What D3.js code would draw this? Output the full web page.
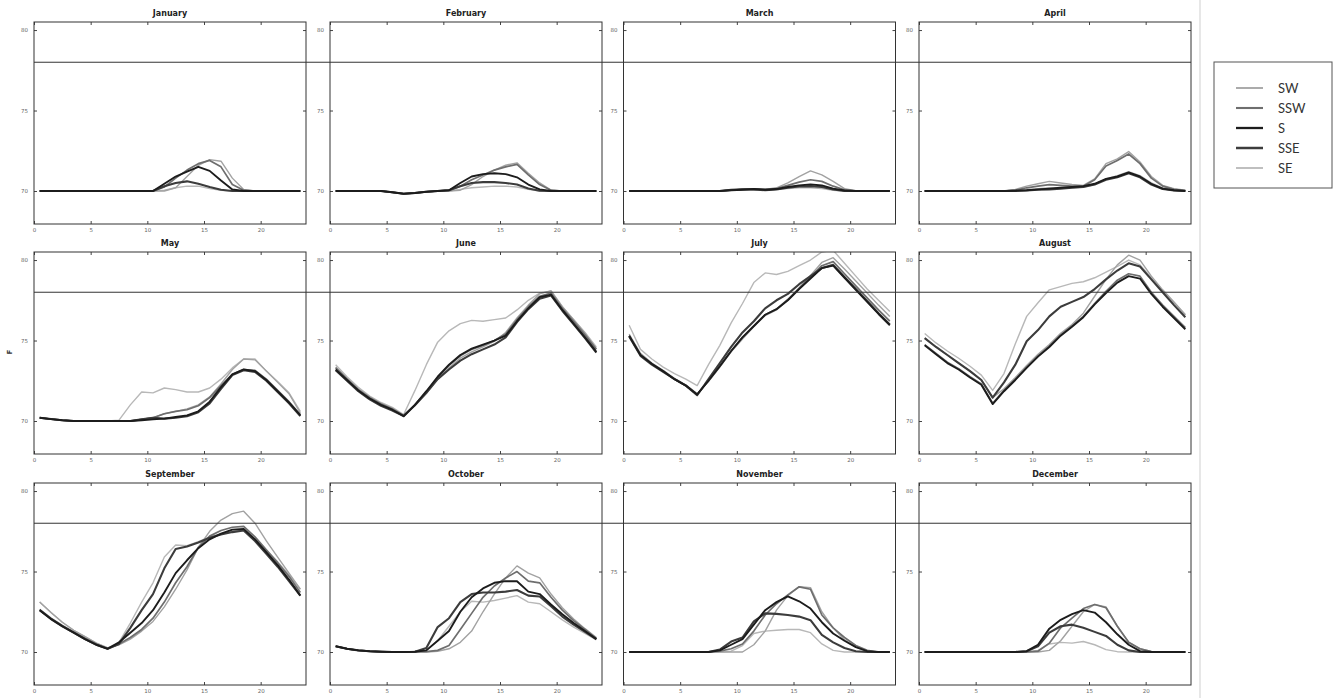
<!DOCTYPE html>
<html>
<head>
<meta charset="utf-8">
<script src="https://cdn.jsdelivr.net/npm/d3@7"></script>
<style>
  body { margin: 0; background: #fff; }
  svg { display: block; }
</style>
</head>
<body>
<svg id="chart" width="1335" height="698"></svg>
<script>
// Hourly indoor temperature (°F) by facade orientation, one panel per month.
const hours = [0.5, 1.5, 2.5, 3.5, 4.5, 5.5, 6.5, 7.5, 8.5, 9.5, 10.5, 11.5,
               12.5, 13.5, 14.5, 15.5, 16.5, 17.5, 18.5, 19.5, 20.5, 21.5, 22.5, 23.5];
const seriesNames = ["SW", "SSW", "S", "SSE", "SE"];
const monthNames = ["January", "February", "March", "April", "May", "June",
                    "July", "August", "September", "October", "November", "December"];
const xTicks = [0, 5, 10, 15, 20];
const yTicks = [70, 75, 80];
const comfortLimit = 78;

// Each month: rows in seriesNames order (SW, SSW, S, SSE, SE), 24 hourly values.
const january = [
  [70,70,70,70,70,70,70,70,70,70,70,70,70.2,70.9,71.6,71.95,71.85,70.8,70.1,70,70,70,70,70],
  [70,70,70,70,70,70,70,70,70,70,70,70.25,70.8,71.3,71.7,71.9,71.5,70.4,70.05,70,70,70,70,70],
  [70,70,70,70,70,70,70,70,70,70,70,70.45,70.9,71.2,71.5,71.25,70.65,70.1,70,70,70,70,70,70],
  [70,70,70,70,70,70,70,70,70,70,70,70.3,70.5,70.6,70.45,70.25,70.08,70,70,70,70,70,70,70],
  [70,70,70,70,70,70,70,70,70,70,70,70.05,70.2,70.3,70.3,70.15,70.05,70,70,70,70,70,70,70]
];
const february = [
  [70,70,70,70,70,69.92,69.83,69.88,69.95,70,70,70.05,70.4,70.9,71.3,71.6,71.75,71.1,70.5,70.05,70,70,70,70],
  [70,70,70,70,70,69.92,69.83,69.88,69.95,70,70.05,70.3,70.7,71.0,71.3,71.5,71.65,71.0,70.4,70.05,70,70,70,70],
  [70,70,70,70,70,69.92,69.83,69.88,69.95,70,70.05,70.5,70.9,71.05,71.1,71.05,70.85,70.4,70.1,70,70,70,70,70],
  [70,70,70,70,70,69.92,69.83,69.88,69.95,70,70.05,70.3,70.5,70.55,70.55,70.5,70.4,70.15,70.02,70,70,70,70,70],
  [70,70,70,70,70,69.92,69.83,69.88,69.95,70,70,70.1,70.2,70.25,70.3,70.3,70.25,70.1,70,70,70,70,70,70]
];
const march = [
  [70,70,70,70,70,70,70,70,70,70.05,70.1,70.15,70.1,70.2,70.5,70.9,71.25,71.0,70.6,70.15,70.02,70,70,70],
  [70,70,70,70,70,70,70,70,70,70.05,70.1,70.12,70.1,70.15,70.35,70.55,70.7,70.6,70.3,70.08,70,70,70,70],
  [70,70,70,70,70,70,70,70,70,70.05,70.08,70.12,70.08,70.12,70.25,70.35,70.4,70.35,70.15,70.03,70,70,70,70],
  [70,70,70,70,70,70,70,70,70,70.08,70.1,70.1,70.05,70.1,70.2,70.28,70.3,70.25,70.1,70,70,70,70,70],
  [70,70,70,70,70,70,70,70,70,70.05,70.12,70.15,70.1,70.1,70.15,70.2,70.2,70.15,70.05,70,70,70,70,70]
];
const april = [
  [70,70,70,70,70,70,70,70,70.1,70.3,70.45,70.6,70.5,70.4,70.35,70.75,71.7,72.0,72.45,71.8,70.9,70.35,70.15,70.05],
  [70,70,70,70,70,70,70,70,70.05,70.2,70.3,70.4,70.35,70.3,70.3,70.7,71.55,71.9,72.3,71.7,70.8,70.3,70.1,70.02],
  [70,70,70,70,70,70,70,70,70.02,70.05,70.1,70.15,70.2,70.25,70.3,70.45,70.75,70.9,71.15,70.9,70.45,70.15,70.05,70],
  [70,70,70,70,70,70,70,70,70,70.03,70.08,70.1,70.15,70.2,70.25,70.4,70.7,70.85,71.1,70.85,70.4,70.12,70.03,70],
  [70,70,70,70,70,70,70,70,70.05,70.1,70.15,70.2,70.2,70.2,70.25,70.4,70.75,70.95,71.2,70.95,70.5,70.2,70.05,70]
];
const may = [
  [70.2,70.12,70.05,70,70,70,70,70,70,70.1,70.2,70.45,70.6,70.75,71.0,71.5,72.3,73.2,73.85,73.8,73.1,72.4,71.7,70.5],
  [70.2,70.12,70.05,70,70,70,70,70,70,70.1,70.2,70.45,70.6,70.7,70.95,71.45,72.2,72.9,73.2,73.15,72.6,71.9,71.2,70.4],
  [70.2,70.12,70.05,70,70,70,70,70,70,70.05,70.1,70.15,70.25,70.35,70.6,71.2,72.1,72.9,73.2,73.1,72.55,71.85,71.15,70.35],
  [70.2,70.12,70.05,70,70,70,70,70,70,70.1,70.2,70.15,70.2,70.3,70.55,71.1,72.0,72.85,73.15,73.05,72.5,71.8,71.1,70.3],
  [70.2,70.12,70.05,70,70,70,70,70.05,71.0,71.8,71.75,72.05,71.95,71.8,71.8,72.05,72.6,73.3,73.85,73.85,73.1,72.45,71.75,70.6]
];
const june = [
  [73.35,72.65,72.0,71.5,71.1,70.8,70.35,70.95,71.7,72.6,73.3,73.9,74.3,74.6,74.95,75.5,76.4,77.2,77.9,78.1,77.1,76.3,75.45,74.5],
  [73.3,72.6,71.95,71.45,71.05,70.75,70.35,71.0,71.8,72.7,73.45,74.05,74.45,74.7,75.0,75.4,76.3,77.1,77.75,77.95,77.0,76.2,75.35,74.45],
  [73.2,72.55,71.9,71.4,71.0,70.7,70.3,71.0,71.85,72.75,73.5,74.1,74.5,74.75,75.0,75.3,76.2,77.0,77.7,77.85,76.9,76.05,75.2,74.3],
  [73.15,72.5,71.85,71.35,70.95,70.65,70.3,71.0,71.75,72.6,73.2,73.75,74.15,74.45,74.75,75.2,76.15,76.95,77.6,77.8,76.85,76.0,75.15,74.25],
  [73.5,72.75,72.1,71.55,71.15,70.85,70.4,71.9,73.5,74.9,75.6,76.05,76.25,76.2,76.3,76.4,76.9,77.5,77.95,78.05,77.1,76.3,75.5,74.6]
];
const july = [
  [75.4,74.2,73.6,73.15,72.65,72.25,71.7,72.45,73.35,74.3,75.1,75.85,76.55,76.9,77.5,78.25,79.05,79.85,80.15,79.45,78.7,77.95,77.2,76.5],
  [75.3,74.1,73.55,73.1,72.6,72.2,71.65,72.5,73.4,74.35,75.2,75.9,76.6,76.95,77.55,78.25,78.95,79.65,79.9,79.15,78.4,77.65,76.9,76.2],
  [75.3,74.1,73.55,73.1,72.6,72.2,71.65,72.5,73.4,74.35,75.2,75.9,76.6,76.95,77.5,78.2,78.85,79.5,79.65,78.9,78.15,77.4,76.65,75.95],
  [75.25,74.05,73.5,73.05,72.6,72.2,71.6,72.6,73.6,74.6,75.5,76.2,77.0,77.5,77.9,78.5,79.0,79.5,79.7,78.95,78.2,77.45,76.7,76.0],
  [75.95,74.45,73.85,73.35,72.95,72.6,72.2,73.5,74.7,76.1,77.3,78.6,79.2,79.1,79.3,79.65,80.0,80.5,80.6,79.8,79.0,78.2,77.5,76.8]
];
const august = [
  [75.15,74.6,74.1,73.6,73.1,72.55,71.45,72.0,72.7,73.45,74.15,74.75,75.45,76.0,76.7,77.75,78.8,79.7,80.3,80.0,79.0,78.15,77.4,76.6],
  [74.75,74.2,73.65,73.25,72.75,72.3,71.1,71.9,72.6,73.35,74.05,74.65,75.35,75.9,76.5,77.3,78.05,78.75,79.15,79.0,78.0,77.2,76.5,75.8],
  [74.7,74.15,73.6,73.2,72.7,72.25,71.05,71.85,72.55,73.3,74.0,74.6,75.3,75.85,76.45,77.25,77.95,78.6,79.0,78.85,77.9,77.1,76.4,75.7],
  [75.15,74.6,74.1,73.6,73.1,72.55,71.45,72.4,73.5,74.95,75.65,76.5,77.1,77.4,77.7,78.2,78.8,79.35,79.8,79.6,78.8,78.0,77.2,76.45],
  [75.44,74.85,74.35,73.9,73.4,72.85,71.9,72.95,74.8,76.5,77.35,78.15,78.35,78.55,78.65,78.9,79.25,79.6,80.0,79.7,78.9,78.1,77.35,76.6]
];
const september = [
  [73.1,72.45,71.85,71.35,70.95,70.55,70.25,70.45,70.8,71.3,71.9,72.8,73.9,75.1,76.5,77.5,78.2,78.6,78.75,78.0,76.9,75.9,74.9,73.9],
  [72.65,72.1,71.65,71.25,70.85,70.5,70.2,70.5,70.9,71.4,72.1,73.1,74.3,75.3,76.5,77.2,77.55,77.75,77.8,77.15,76.35,75.55,74.7,73.7],
  [72.6,72.05,71.6,71.2,70.8,70.45,70.2,70.6,71.2,71.8,72.6,73.7,74.9,75.7,76.45,77.0,77.35,77.6,77.65,77.0,76.2,75.4,74.5,73.5],
  [72.6,72.05,71.6,71.2,70.8,70.45,70.2,70.5,71.5,72.6,73.6,75.2,76.4,76.55,76.8,77.1,77.3,77.45,77.55,76.9,76.1,75.3,74.4,73.5],
  [73.1,72.45,71.85,71.35,70.95,70.55,70.25,70.6,71.8,73.1,74.3,75.9,76.65,76.6,76.85,77.15,77.35,77.5,77.6,77.0,76.3,75.6,74.8,73.9]
];
const october = [
  [70.36,70.2,70.1,70.05,70.02,70,70,70.02,70,70.05,70.2,70.6,71.3,72.5,73.6,74.6,75.35,74.9,74.6,73.6,72.75,72.05,71.45,70.9],
  [70.36,70.2,70.1,70.05,70.02,70,70,70.02,70.02,70.1,70.4,71.4,72.4,73.4,74.1,74.6,75.0,74.4,74.3,73.4,72.6,71.95,71.4,70.85],
  [70.36,70.2,70.1,70.05,70.02,70,70,70.02,70.1,70.7,71.3,72.5,73.4,73.95,74.3,74.4,74.4,73.75,73.6,72.95,72.35,71.8,71.3,70.8],
  [70.36,70.2,70.1,70.05,70.02,70,70,70.02,70.25,71.55,72.1,73.1,73.6,73.7,73.7,73.75,73.85,73.5,73.45,72.85,72.2,71.7,71.25,70.8],
  [70.36,70.2,70.1,70.05,70.02,70,70,70.02,70.1,70.7,71.6,72.5,73.15,73.1,73.2,73.35,73.5,73.1,73.0,72.5,72.0,71.55,71.15,70.75]
];
const november = [
  [70,70,70,70,70,70,70,70,70,70,70,70.45,71.3,72.6,73.5,74.05,74.0,72.5,71.5,70.75,70.3,70.05,70,70],
  [70,70,70,70,70,70,70,70,70.05,70.2,70.5,71.3,72.3,73.0,73.55,74.05,73.9,72.3,71.5,70.9,70.4,70.1,70,70],
  [70,70,70,70,70,70,70,70,70.1,70.45,70.8,71.7,72.6,73.1,73.45,73.15,72.7,71.85,71.15,70.7,70.3,70.05,70,70],
  [70,70,70,70,70,70,70,70,70.15,70.65,70.9,71.9,72.4,72.37,72.3,72.2,71.98,71.06,70.6,70.25,70.05,70,70,70],
  [70,70,70,70,70,70,70,70,70,70.05,70.4,71.15,71.3,71.35,71.4,71.4,71.2,70.5,70.1,70,70,70,70,70]
];
const december = [
  [70,70,70,70,70,70,70,70,70,70,70,70.1,70.7,71.6,72.5,72.95,72.8,71.6,70.6,70.2,70.03,70,70,70],
  [70,70,70,70,70,70,70,70,70,70,70.05,70.55,71.5,72.1,72.7,72.95,72.75,71.6,70.6,70.2,70.02,70,70,70],
  [70,70,70,70,70,70,70,70,70,70.05,70.45,71.45,72.0,72.35,72.6,72.45,71.85,71.1,70.45,70.05,70,70,70,70],
  [70,70,70,70,70,70,70,70,70,70.05,70.35,71.2,71.6,71.7,71.5,71.25,71.0,70.45,70.1,70,70,70,70,70],
  [70,70,70,70,70,70,70,70,70,70,70.1,70.5,70.6,70.55,70.65,70.45,70.15,70.02,70,70,70,70,70,70]
];

const monthData = [january, february, march, april, may, june,
                   july, august, september, october, november, december];

// Line styles for the five orientations
const lineColor = { SW: "#a2a2a2", SSW: "#6e6e6e", S: "#1c1c1c", SSE: "#3c3c3c", SE: "#b8b8b8" };
const lineWidth = { SW: 1.4, SSW: 1.7, S: 1.9, SSE: 2.1, SE: 1.4 };
const drawOrder = ["SE", "SW", "SSW", "SSE", "S"];

// Grid layout
const colLeft = [34, 330, 623.5, 919];
const rowTop = [22, 252, 483];
const panelW = 272;
const panelH = 202;

const svg = d3.select("#chart");

const x = d3.scaleLinear().domain([0, 24]).range([0, panelW]);
const y = d3.scaleLinear().domain([67.95, 80.5]).range([panelH, 0]);

const line = d3.line()
  .x(d => x(d[0]))
  .y(d => y(d[1]));

svg.append("defs").append("clipPath")
  .attr("id", "panel-clip")
  .append("rect")
  .attr("width", panelW)
  .attr("height", panelH);

const tickFont = "DejaVu Sans, sans-serif";

monthData.forEach((rows, m) => {
  const col = m % 4;
  const row = Math.floor(m / 4);
  const g = svg.append("g")
    .attr("transform", `translate(${colLeft[col]},${rowTop[row]})`);

  // Series lines
  const lines = g.append("g").attr("clip-path", "url(#panel-clip)");
  drawOrder.forEach(name => {
    const k = seriesNames.indexOf(name);
    const pts = hours.map((h, i) => [h, rows[k][i]]);
    lines.append("path")
      .datum(pts)
      .attr("d", line)
      .attr("fill", "none")
      .attr("stroke", lineColor[name])
      .attr("stroke-width", lineWidth[name])
      .attr("stroke-linejoin", "round");
  });

  // Frame with inward ticks on all four sides
  const styleAxis = sel => {
    sel.select(".domain").remove();
    sel.selectAll(".tick line").attr("stroke", "#444");
    sel.selectAll(".tick text")
      .attr("fill", "#666")
      .style("font-family", tickFont)
      .style("font-size", "5.5px");
  };

  g.append("g")
    .call(d3.axisLeft(y).tickValues(yTicks).tickSize(-3).tickPadding(6))
    .call(styleAxis);
  g.append("g")
    .attr("transform", `translate(${panelW},0)`)
    .call(d3.axisRight(y).tickValues(yTicks).tickSize(-3).tickFormat(""))
    .call(styleAxis);
  g.append("g")
    .attr("transform", `translate(0,${panelH})`)
    .call(d3.axisBottom(x).tickValues(xTicks).tickSize(-3).tickPadding(4))
    .call(styleAxis);
  g.append("g")
    .call(d3.axisTop(x).tickValues(xTicks).tickSize(-3).tickFormat(""))
    .call(styleAxis);

  g.append("rect")
    .attr("width", panelW)
    .attr("height", panelH)
    .attr("fill", "none")
    .attr("stroke", "#333")
    .attr("stroke-width", 1);

  g.append("text")
    .attr("x", panelW / 2)
    .attr("y", -6)
    .attr("text-anchor", "middle")
    .style("font-family", tickFont)
    .style("font-weight", "bold")
    .style("font-size", "8px")
    .attr("fill", "#222")
    .text(monthNames[m]);
});

// Comfort limit spanning each row of panels
rowTop.forEach(top => {
  svg.append("line")
    .attr("x1", colLeft[0])
    .attr("x2", colLeft[3] + panelW)
    .attr("y1", top + y(comfortLimit))
    .attr("y2", top + y(comfortLimit))
    .attr("stroke", "#333")
    .attr("stroke-width", 1);
});

// Y axis unit label
svg.append("text")
  .attr("transform", "translate(12,352) rotate(-90)")
  .attr("text-anchor", "middle")
  .style("font-family", tickFont)
  .style("font-weight", "bold")
  .style("font-size", "7px")
  .attr("fill", "#333")
  .text("F");

// Divider between panels and legend
svg.append("line")
  .attr("x1", 1200).attr("x2", 1200)
  .attr("y1", 0).attr("y2", 698)
  .attr("stroke", "#cfcfcf")
  .attr("stroke-width", 1);

// Legend
const legend = svg.append("g").attr("transform", "translate(1214,62)");
legend.append("rect")
  .attr("width", 118)
  .attr("height", 126)
  .attr("fill", "#fff")
  .attr("stroke", "#555")
  .attr("stroke-width", 1);

seriesNames.forEach((name, i) => {
  const yy = 26 + i * 20;
  legend.append("line")
    .attr("x1", 22).attr("x2", 49)
    .attr("y1", yy).attr("y2", yy)
    .attr("stroke", lineColor[name])
    .attr("stroke-width", lineWidth[name] + 0.4);
  legend.append("text")
    .attr("x", 64)
    .attr("y", yy + 4.5)
    .style("font-family", "Lato, 'Open Sans', sans-serif")
    .style("font-size", "13px")
    .attr("fill", "#333")
    .text(name);
});
</script>
</body>
</html>
